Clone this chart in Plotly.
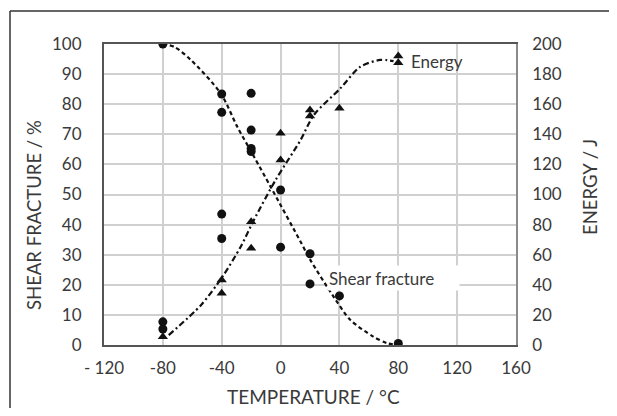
import plotly.graph_objects as go

# ---- data ----
shear_T = [-80, -80, -80, -40, -40, -40, -40, -20, -20, -20, -20, 0, 0, 20, 20, 40, 80]
shear_pct = [100, 7.7, 5.3, 83.4, 77.3, 43.5, 35.4, 83.6, 71.4, 65.3, 64.3, 51.5, 32.5, 30.3, 20.3, 16.3, 0.5]

energy_T = [-80, -40, -40, -20, -20, 0, 0, 20, 20, 40, 80, 80]
energy_J = [5.5, 43.2, 34.4, 81.9, 64.3, 140.7, 122.9, 156.2, 152.2, 157.3, 192, 187.6]

shear_curve_T = [-80, -72, -61, -40.7, -29.4, -18.1, -6.8, 13.6, 20.3, 36.1, 47.5, 63, 72.3, 80]
shear_curve_pct = [100, 99, 94.7, 83.6, 72.5, 62.6, 52.6, 34.3, 28.2, 16.0, 8.3, 2.8, 0.6, 0]

energy_curve_T = [-76, -54, -39.5, -27.1, -18.1, -3.4, 13.6, 22.6, 40.7, 54.2, 67.8, 76.8]
energy_curve_J = [6.6, 26.6, 45.4, 65.3, 83.1, 109.6, 136.2, 152.8, 170.6, 184.9, 189.4, 188.6]

x_ticks = [-120, -80, -40, 0, 40, 80, 120, 160]
x_tick_labels = ["- 120", "-80", "-40", "0", "40", "80", "120", "160"]
y_ticks = list(range(0, 101, 10))
y2_ticks = list(range(0, 201, 20))

# ---- layout geometry (page shows the figure inside an 8px body margin) ----
OFF = 8
WIN_W, WIN_H = 617, 416
W, H = WIN_W - 2 * OFF, WIN_H - 2 * OFF
L, T = 104 - OFF, 44 - OFF
PW, PH = 412, 301
R, B = W - L - PW, H - T - PH

FONT = "Lato"
TXT = "#3a3a3a"
INK = "#111111"

fig = go.Figure()

fig.add_trace(go.Scatter(
    x=shear_curve_T, y=shear_curve_pct, mode="lines",
    line=dict(color=INK, width=2.2, dash="4px,3px", shape="spline", smoothing=0.8),
    hoverinfo="skip", showlegend=False))
fig.add_trace(go.Scatter(
    x=energy_curve_T, y=energy_curve_J, mode="lines", yaxis="y2",
    line=dict(color=INK, width=2.2, dash="6px,3px,2px,3px", shape="spline", smoothing=0.8),
    hoverinfo="skip", showlegend=False))
fig.add_trace(go.Scatter(
    x=shear_T, y=shear_pct, mode="markers",
    marker=dict(symbol="circle", size=9, color=INK), showlegend=False))
fig.add_trace(go.Scatter(
    x=energy_T, y=energy_J, mode="markers", yaxis="y2",
    marker=dict(symbol="triangle-up", size=9, color=INK), showlegend=False))

fig.update_layout(
    width=W, height=H,
    margin=dict(l=L, r=R, t=T, b=B, pad=0, autoexpand=False),
    paper_bgcolor="white", plot_bgcolor="white",
    font=dict(family=FONT, size=17, color=TXT),
    xaxis=dict(
        range=[-120, 160], tickvals=x_ticks, ticktext=x_tick_labels,
        showgrid=True, gridcolor="#d0d0d0", gridwidth=1.5,
        showline=True, linecolor="#555555", linewidth=2, mirror=True,
        zeroline=False, ticks="", ticklabelstandoff=7,
        tickfont=dict(family=FONT, size=17, color=TXT),
    ),
    yaxis=dict(
        range=[0, 100], tickvals=y_ticks,
        showgrid=True, gridcolor="#d0d0d0", gridwidth=1.5,
        showline=True, linecolor="#555555", linewidth=2,
        zeroline=False, ticks="", ticklabelstandoff=17,
        tickfont=dict(family=FONT, size=17, color=TXT),
    ),
    yaxis2=dict(
        range=[0, 200], tickvals=y2_ticks, overlaying="y", side="right",
        showgrid=False, showline=True, linecolor="#8a8a8a", linewidth=1.5,
        zeroline=False, ticks="", ticklabelstandoff=11,
        tickfont=dict(family=FONT, size=17, color=TXT),
    ),
)

# helpers: window pixel -> paper / data coordinates
def px_to_paper_x(px):
    return (px - OFF - L) / PW

def px_to_paper_y(py):
    return (T + PH - (py - OFF)) / PH

def px_to_temp(px):
    return -120 + (px - 104) * 280 / PW

# axis titles
fig.add_annotation(text="TEMPERATURE / °C", xref="paper", yref="paper",
                   x=px_to_paper_x(313), y=px_to_paper_y(396),
                   xanchor="center", yanchor="middle", showarrow=False,
                   font=dict(family=FONT, size=19, color=TXT))
fig.add_annotation(text="SHEAR FRACTURE / %", xref="paper", yref="paper",
                   x=px_to_paper_x(34), y=px_to_paper_y(215), textangle=-90,
                   xanchor="center", yanchor="middle", showarrow=False,
                   font=dict(family=FONT, size=18.5, color=TXT))
fig.add_annotation(text="ENERGY / J", xref="paper", yref="paper",
                   x=px_to_paper_x(590), y=px_to_paper_y(187), textangle=-90,
                   xanchor="center", yanchor="middle", showarrow=False,
                   font=dict(family=FONT, size=18.5, color=TXT))

# curve labels
fig.add_annotation(text="Energy", xref="x", yref="paper",
                   x=px_to_temp(409), y=px_to_paper_y(62),
                   xanchor="left", yanchor="middle", showarrow=False,
                   font=dict(family=FONT, size=17, color=TXT))
fig.add_annotation(text="Shear fracture", xref="x", yref="paper",
                   x=px_to_temp(327), y=px_to_paper_y(278),
                   xanchor="left", yanchor="middle",
                   width=129, height=22, align="left", bgcolor="white", borderpad=1,
                   showarrow=False, font=dict(family=FONT, size=17, color=TXT))

# outer frame: only its left and top edges are visible in the reference
FRAME = dict(color="#333333", width=1.5)
fig.add_shape(type="line", xref="paper", yref="paper", layer="below",
              x0=px_to_paper_x(10), x1=px_to_paper_x(10),
              y0=px_to_paper_y(WIN_H), y1=px_to_paper_y(11), line=FRAME)
fig.add_shape(type="line", xref="paper", yref="paper", layer="below",
              x0=px_to_paper_x(10), x1=px_to_paper_x(WIN_W),
              y0=px_to_paper_y(11), y1=px_to_paper_y(11), line=FRAME)

fig.write_html("out.html")
